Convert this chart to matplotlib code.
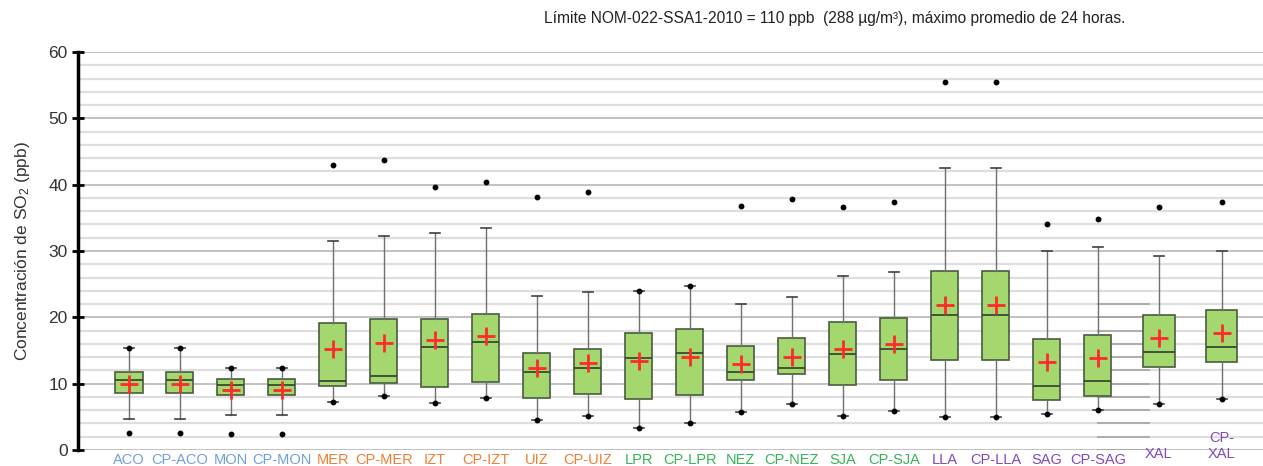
import matplotlib
matplotlib.use("Agg")
import matplotlib.pyplot as plt
import matplotlib.transforms as mtransforms

plt.rcParams['font.family'] = ['Liberation Sans', 'DejaVu Sans']
plt.rcParams['mathtext.fontset'] = 'custom'
plt.rcParams['mathtext.rm'] = 'Liberation Sans'
plt.rcParams['mathtext.default'] = 'regular'

# ---------------- data ----------------
stations = ["ACO", "CP-ACO", "MON", "CP-MON", "MER", "CP-MER", "IZT", "CP-IZT",
            "UIZ", "CP-UIZ", "LPR", "CP-LPR", "NEZ", "CP-NEZ", "SJA", "CP-SJA",
            "LLA", "CP-LLA", "SAG", "CP-SAG", "XAL", "CP-XAL"]
label_text = ["ACO", "CP-ACO", "MON", "CP-MON", "MER", "CP-MER", "IZT", "CP-IZT",
              "UIZ", "CP-UIZ", "LPR", "CP-LPR", "NEZ", "CP-NEZ", "SJA", "CP-SJA",
              "LLA", "CP-LLA", "SAG", "CP-SAG", "XAL", "CP-\nXAL"]
zone = ["blue"] * 4 + ["orange"] * 6 + ["green"] * 6 + ["purple"] * 6

whis_lo = [4.7, 4.7, 5.3, 5.3, 7.3, 8.1, 7.1, 7.9, 4.5, 5.2, 3.3, 4.0,
           5.8, 6.9, 5.2, 5.9, 5.0, 5.0, 5.4, 6.0, 6.9, 7.7]
q1 = [8.6, 8.6, 8.3, 8.3, 9.6, 10.1, 9.5, 10.3, 7.8, 8.5, 7.7, 8.3,
      10.6, 11.4, 9.8, 10.5, 13.6, 13.6, 7.6, 8.2, 12.5, 13.2]
median = [10.6, 10.6, 9.8, 9.8, 10.4, 11.1, 15.6, 16.3, 11.7, 12.4, 13.9, 14.6,
          11.8, 12.4, 14.5, 15.2, 20.3, 20.3, 9.7, 10.4, 14.8, 15.5]
q3 = [11.7, 11.7, 10.7, 10.7, 19.1, 19.8, 19.8, 20.5, 14.6, 15.2, 17.6, 18.2,
      15.7, 16.9, 19.3, 19.9, 27.0, 27.0, 16.8, 17.4, 20.4, 21.1]
whis_hi = [15.4, 15.4, 12.3, 12.3, 31.5, 32.2, 32.7, 33.5, 23.2, 23.8, 24.0, 24.7,
           22.0, 23.1, 26.2, 26.8, 42.5, 42.5, 30.0, 30.6, 29.2, 30.0]
mean = [9.9, 9.9, 9.1, 9.1, 15.3, 16.1, 16.6, 17.2, 12.3, 13.1, 13.4, 14.0,
        13.0, 14.0, 15.3, 16.0, 21.9, 21.9, 13.2, 13.8, 16.9, 17.6]
minimum = [2.5, 2.5, 2.4, 2.4, 7.3, 8.1, 7.1, 7.9, 4.5, 5.2, 3.3, 4.0,
           5.8, 6.9, 5.2, 5.9, 5.0, 5.0, 5.4, 6.0, 6.9, 7.7]
maximum = [15.4, 15.4, 12.3, 12.3, 42.9, 43.7, 39.7, 40.4, 38.2, 38.9, 24.0, 24.7,
           36.8, 37.9, 36.6, 37.4, 55.5, 55.5, 34.0, 34.8, 36.6, 37.4]

title = "Límite NOM-022-SSA1-2010 = 110 ppb  (288 µg/m³), máximo promedio de 24 horas."
ylabel = "Concentración de SO$_2$ (ppb)"

# ---------------- style / layout ----------------
zone_colors = {"blue": "#6f9fdc", "orange": "#ee7f34", "green": "#33b456", "purple": "#8048b8"}
positions = list(range(20)) + [20.2, 21.43]
widths = [0.53] * 20 + [0.62, 0.6]

fig = plt.figure(figsize=(12.63, 4.66), dpi=100)
ax = fig.add_axes([78 / 1263, 16 / 466, 1 - 78 / 1263, 398 / 466])

stats = []
for i in range(len(stations)):
    stats.append(dict(label=stations[i], med=median[i], q1=q1[i], q3=q3[i],
                      whislo=whis_lo[i], whishi=whis_hi[i], mean=mean[i],
                      fliers=[minimum[i], maximum[i]]))

ax.bxp(stats, positions=positions, widths=widths, patch_artist=True,
       showmeans=True, showfliers=True, capwidths=0.2,
       boxprops=dict(facecolor="#a4d86f", edgecolor="#4a5a40", linewidth=1.2),
       medianprops=dict(color="#3a4a30", linewidth=1.3),
       whiskerprops=dict(color="#707070", linewidth=1.0),
       capprops=dict(color="#404040", linewidth=1.2),
       meanprops=dict(marker="+", markersize=13, markeredgewidth=2.0,
                      markeredgecolor="#ff2a2a", color="#ff2a2a"),
       flierprops=dict(marker="o", markersize=3.2, markerfacecolor="black",
                       markeredgecolor="black"))

ax.set_xlim(-1.0, 22.24)
ax.set_ylim(0, 60)
ax.set_yticks(range(0, 61, 10))
ax.set_yticks(range(0, 61, 2), minor=True)
ax.grid(which="minor", axis="y", color="#dedede", linewidth=1.6, zorder=0)
ax.grid(which="major", axis="y", color="#b0b0b0", linewidth=1.1, zorder=0)
ax.set_axisbelow(True)

# stray short grid segments near CP-SAG
ax.hlines(range(0, 23, 2), 18.98, 20.02, colors="#a0a0a0", linewidth=1.1, zorder=1)

for s in ["top", "right", "bottom"]:
    ax.spines[s].set_visible(False)
ax.spines["left"].set_linewidth(2.5)
ax.tick_params(axis="y", which="major", direction="inout", length=9, width=2,
               labelsize=12.5, pad=3, colors="black")
ax.tick_params(axis="y", which="minor", length=0)
ax.tick_params(axis="y", labelcolor="#333333")
ax.set_xticks([])

trans = mtransforms.blended_transform_factory(ax.transData, ax.transAxes)
for i, lab in enumerate(label_text):
    c = zone_colors[zone[i]]
    if stations[i] == "XAL":
        y = -0.009
    elif stations[i] == "CP-XAL":
        y = 0.01
    else:
        y = -0.024
    ax.text(positions[i], y, lab, transform=trans, ha="center", va="center",
            fontsize=10.5, color=c, linespacing=1.25, clip_on=False)

ax.set_ylabel(ylabel, fontsize=12.5, color="#333333", labelpad=12)
fig.text(0.661, 0.961, title, ha="center", va="center", fontsize=11.2, color="#222222")

fig.savefig("out.png", dpi=100)
